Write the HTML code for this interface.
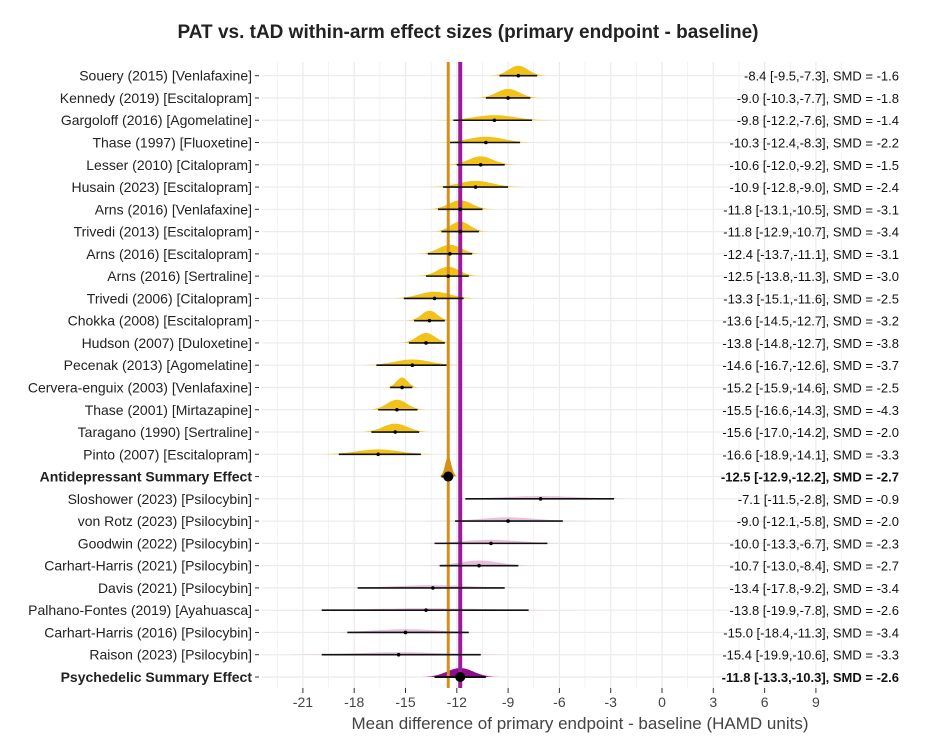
<!DOCTYPE html>
<html><head><meta charset="utf-8"><style>
body{margin:0;background:#fff;width:936px;height:750px;overflow:hidden}
svg{font-family:"Liberation Sans",Arial,sans-serif}
</style></head><body>
<svg id="c" width="936" height="750"></svg>
<script>
const labels=["Souery (2015) [Venlafaxine]","Kennedy (2019) [Escitalopram]","Gargoloff (2016) [Agomelatine]","Thase (1997) [Fluoxetine]","Lesser (2010) [Citalopram]","Husain (2023) [Escitalopram]","Arns (2016) [Venlafaxine]","Trivedi (2013) [Escitalopram]","Arns (2016) [Escitalopram]","Arns (2016) [Sertraline]","Trivedi (2006) [Citalopram]","Chokka (2008) [Escitalopram]","Hudson (2007) [Duloxetine]","Pecenak (2013) [Agomelatine]","Cervera-enguix (2003) [Venlafaxine]","Thase (2001) [Mirtazapine]","Taragano (1990) [Sertraline]","Pinto (2007) [Escitalopram]","Antidepressant Summary Effect","Sloshower (2023) [Psilocybin]","von Rotz (2023) [Psilocybin]","Goodwin (2022) [Psilocybin]","Carhart-Harris (2021) [Psilocybin]","Davis (2021) [Psilocybin]","Palhano-Fontes (2019) [Ayahuasca]","Carhart-Harris (2016) [Psilocybin]","Raison (2023) [Psilocybin]","Psychedelic Summary Effect"];
const est=[-8.4,-9.0,-9.8,-10.3,-10.6,-10.9,-11.8,-11.8,-12.4,-12.5,-13.3,-13.6,-13.8,-14.6,-15.2,-15.5,-15.6,-16.6,-12.5,-7.1,-9.0,-10.0,-10.7,-13.4,-13.8,-15.0,-15.4,-11.8];
const lo=[-9.5,-10.3,-12.2,-12.4,-12.0,-12.8,-13.1,-12.9,-13.7,-13.8,-15.1,-14.5,-14.8,-16.7,-15.9,-16.6,-17.0,-18.9,-12.9,-11.5,-12.1,-13.3,-13.0,-17.8,-19.9,-18.4,-19.9,-13.3];
const hi=[-7.3,-7.7,-7.6,-8.3,-9.2,-9.0,-10.5,-10.7,-11.1,-11.3,-11.6,-12.7,-12.7,-12.6,-14.6,-14.3,-14.2,-14.1,-12.2,-2.8,-5.8,-6.7,-8.4,-9.2,-7.8,-11.3,-10.6,-10.3];
const smd=[-1.6,-1.8,-1.4,-2.2,-1.5,-2.4,-3.1,-3.4,-3.1,-3.0,-2.5,-3.2,-3.8,-3.7,-2.5,-4.3,-2.0,-3.3,-2.7,-0.9,-2.0,-2.3,-2.7,-3.4,-2.6,-3.4,-3.3,-2.6];
const ticks=[-21,-18,-15,-12,-9,-6,-3,0,3,6,9];
const summaryA=-12.5, summaryP=-11.8;
const NS="http://www.w3.org/2000/svg",svg=document.getElementById('c');
const X=v=>662+v*17.1, Y=i=>75.7+i*22.27;
function mk(t,a,p){const e=document.createElementNS(NS,t);for(const k in a)e.setAttribute(k,a[k]);(p||svg).appendChild(e);return e;}
const fmt=v=>v.toFixed(1);
let t=mk('text',{x:468,y:38,'text-anchor':'middle','font-size':19,'font-weight':'bold',fill:'#222'});t.textContent="PAT vs. tAD within-arm effect sizes (primary endpoint - baseline)";

const g=mk('g',{});
for(let v=-22.5;v<=10.5;v+=1.5){mk('line',{x1:X(v),x2:X(v),y1:62,y2:688,stroke:'#ebebeb','stroke-width':Number.isInteger(v/3)?1.2:0.6},g);}
for(let i=0;i<labels.length;i++)mk('line',{x1:262,x2:830,y1:Y(i),y2:Y(i),stroke:'#ebebeb','stroke-width':1.2},g);
for(const v of ticks){
 mk('line',{x1:X(v),x2:X(v),y1:688,y2:693,stroke:'#333'});
 let tt=mk('text',{x:X(v),y:707,'text-anchor':'middle','font-size':14,fill:'#444'});tt.textContent=v;
 }
t=mk('text',{x:580,y:729,'text-anchor':'middle','font-size':17,fill:'#444'});t.textContent="Mean difference of primary endpoint - baseline (HAMD units)";

for(let i=0;i<labels.length;i++){
 const sum=(i===18||i===27),psy=i>18;
 const sd=(hi[i]-lo[i])/3.92;
 const h=sum?(i===18?20:9):Math.min(10,Math.max(1.5,6/sd));
 let d='';const y=Y(i);
 for(let k=-3;k<=3.001;k+=0.1){const v=est[i]+k*sd;d+=(d?'L':'M')+X(v).toFixed(1)+','+(y-h*Math.exp(-k*k/2)).toFixed(1);}
 d+='Z';
 const col=i===18?'#D4900F':i===27?'#8E0C8E':psy?'#D98AC0':'#F2C21A';
 const p=mk('path',{d:d,fill:col,opacity:psy&&!sum?0.55:1});
 
}
let l=mk('line',{x1:X(summaryA),x2:X(summaryA),y1:62,y2:688,stroke:'#D4901A','stroke-width':3});

l=mk('line',{x1:X(summaryP),x2:X(summaryP),y1:62,y2:688,stroke:'#9B1B9B','stroke-width':4});

for(let i=0;i<labels.length;i++){
 const y=Y(i),sum=(i===18||i===27);
 mk('line',{x1:X(lo[i]),x2:X(hi[i]),y1:y,y2:y,stroke:'#111','stroke-width':sum?2:1.6});
 const pt=mk('circle',{cx:X(est[i]),cy:y,r:sum?5:1.8,fill:'#000'});
 
 const lb=mk('text',{x:252,y:y+5,'text-anchor':'end','font-size':14,fill:'#222','font-weight':sum?'bold':'normal'});lb.textContent=labels[i];
 
 mk('line',{x1:255,x2:259,y1:y,y2:y,stroke:'#333'});
 const rt=mk('text',{x:899,y:y+5,'text-anchor':'end','font-size':13,fill:'#111','font-weight':sum?'bold':'normal'});
 rt.textContent=fmt(est[i])+' ['+fmt(lo[i])+','+fmt(hi[i])+'], SMD = '+fmt(smd[i]);
 
}
</script></body></html>
